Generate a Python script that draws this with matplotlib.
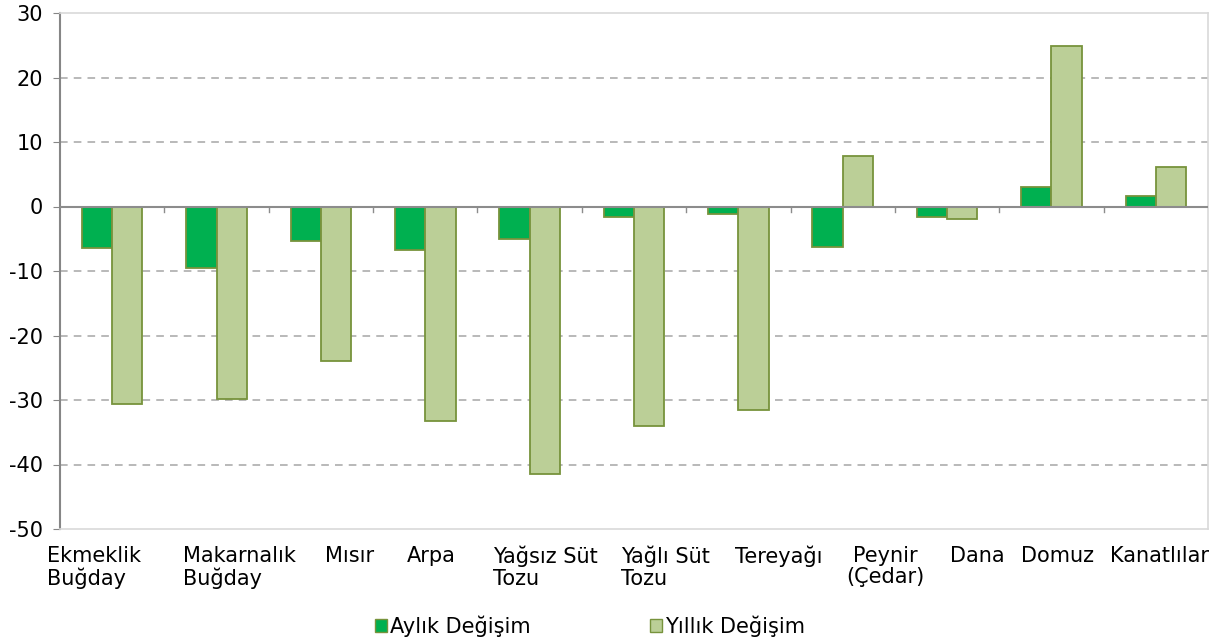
import numpy as np
import matplotlib.pyplot as plt
import matplotlib.transforms as mtrans
from matplotlib.patches import Patch

plt.rcParams['axes.unicode_minus'] = False

# veriler
urunler = ['Ekmeklik\nBuğday', 'Makarnalık\nBuğday', 'Mısır', 'Arpa', 'Yağsız Süt\nTozu',
           'Yağlı Süt\nTozu', 'Tereyağı', 'Peynir\n(Çedar)', 'Dana', 'Domuz', 'Kanatlılar']
aylik = [-6.5, -9.6, -5.4, -6.8, -5.1, -1.7, -1.2, -6.3, -1.7, 3.1, 1.7]
yillik = [-30.6, -29.8, -24.0, -33.2, -41.4, -34.1, -31.5, 7.9, -2.0, 24.9, 6.2]

# etiketlerin yatay kayması (piksel), orijinal grafikteki gibi
kayma = [-18, 23, 29, 6, 16, 31, 40, 43, 30, 6, 4]

koyu = '#00B050'
acik = '#BBCF97'
kenar = '#77933C'
fs = 15

fig = plt.figure(figsize=(12.27, 6.44), dpi=100)
ax = fig.add_axes([60/1227, 1-529/644, 1148/1227, 516/644])

x = np.arange(len(urunler))
w = 0.29
ax.bar(x - w/2, aylik, w, color=koyu, edgecolor=kenar, linewidth=1.3, zorder=3)
ax.bar(x + w/2, yillik, w, color=acik, edgecolor=kenar, linewidth=1.3, zorder=3)

ax.set_xlim(-0.5, len(urunler) - 0.5)
ax.set_ylim(-50, 30)
ax.set_yticks(range(-50, 31, 10))
for v in range(-40, 30, 10):
    if v != 0:
        ax.axhline(v, color='#A6A6A6', linestyle=(0, (5, 4)), linewidth=1.1, zorder=1)
ax.axhline(0, color='#8C8C8C', linewidth=1.5, zorder=4)
# kategori sınırlarındaki küçük çentikler
for b in np.arange(0.5, len(urunler) - 1, 1):
    ax.plot([b, b], [0, -0.9], color='#8C8C8C', linewidth=1, zorder=4)

for s in ['top', 'right', 'bottom']:
    ax.spines[s].set_color('#D9D9D9')
    ax.spines[s].set_linewidth(1.2)
ax.spines['left'].set_color('#868686')
ax.spines['left'].set_linewidth(1.5)

ax.set_xticks(x)
ax.set_xticklabels(urunler, fontsize=fs, multialignment='left', linespacing=1.1)
ax.tick_params(axis='x', length=0, pad=12)
ax.tick_params(axis='y', labelsize=fs, length=5, color='#868686', pad=7)
for lab, k in zip(ax.get_xticklabels(), kayma):
    lab.set_transform(lab.get_transform() + mtrans.ScaledTranslation(k/100, 0, fig.dpi_scale_trans))
    if lab.get_text().startswith('Peynir'):
        lab.set_multialignment('center')

handles = [Patch(facecolor=koyu, edgecolor=kenar, label='Aylık Değişim'),
           Patch(facecolor=acik, edgecolor=kenar, label='Yıllık Değişim')]
fig.legend(handles=handles, loc='center', bbox_to_anchor=(0.481, 1-626/644), ncol=2,
           frameon=False, fontsize=fs, handlelength=0.6, handleheight=0.6,
           handletextpad=0.15, columnspacing=5.7)

fig.savefig('out.png', dpi=100)
